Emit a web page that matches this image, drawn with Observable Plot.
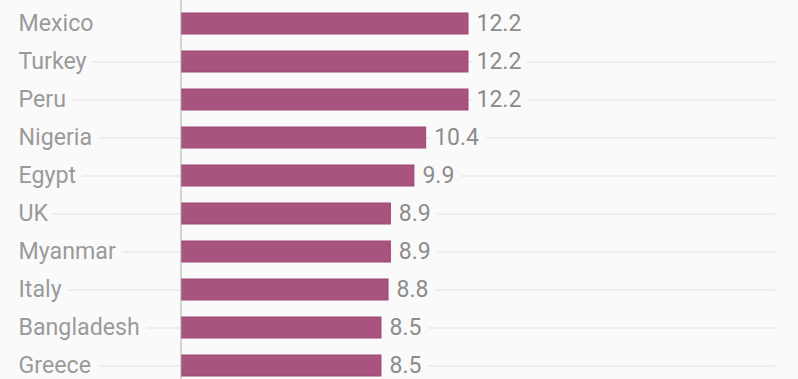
<!DOCTYPE html>
<html>
<head>
<meta charset="utf-8">
<script src="https://cdn.jsdelivr.net/npm/d3@7"></script>
<script src="https://cdn.jsdelivr.net/npm/@observablehq/plot@0.6"></script>
<style>
  html, body { margin: 0; padding: 0; background: #fafafa; }
  #chart svg { display: block; }
</style>
</head>
<body>
<div id="chart"></div>
<script>
const countries = ["Mexico", "Turkey", "Peru", "Nigeria", "Egypt", "UK", "Myanmar", "Italy", "Bangladesh", "Greece"];
const values = [12.2, 12.2, 12.2, 10.4, 9.9, 8.9, 8.9, 8.8, 8.5, 8.5];

const data = countries.map((c, i) => ({country: c, value: values[i]}));

const xMax = 25.25;
const pxPerUnit = (775 - 181) / xMax;
const gridStart = (18 - 181) / pxPerUnit;

const chart = Plot.plot({
  width: 798,
  height: 379,
  marginTop: 0, marginBottom: 0, marginLeft: 0, marginRight: 0,
  style: {background: "#fafafa", fontFamily: "Roboto, 'Noto Sans', sans-serif"},
  x: {domain: [0, xMax], range: [181, 775], axis: null},
  y: {domain: countries, range: [2.86, 385.6], paddingInner: 0.44, paddingOuter: 0.22, axis: null},
  marks: [
    Plot.ruleY(data.slice(1), {y: "country", x1: gridStart, x2: xMax, stroke: "#e9e9e9", strokeWidth: 1.4}),
    Plot.text(data, {
      y: "country", text: "country", frameAnchor: "left", dx: 18, textAnchor: "start",
      fontSize: 23.2, fill: "#9a9a9a", stroke: "#fafafa", strokeWidth: 16, letterSpacing: 0.1
    }),
    Plot.text(data, {
      x: "value", y: "country", text: d => d.value.toFixed(1), dx: 8, textAnchor: "start",
      fontSize: 23, fill: "#8c8c8c", stroke: "#fafafa", strokeWidth: 16, letterSpacing: -1.5
    }),
    Plot.barX(data, {x: "value", y: "country", fill: "#a8547f", stroke: "#9e4876", strokeWidth: 1, insetLeft: 0.5}),
    Plot.ruleX([0], {stroke: "#aaaaaa", strokeWidth: 1, dx: -0.5})
  ]
});
document.getElementById("chart").appendChild(chart);
</script>
</body>
</html>
